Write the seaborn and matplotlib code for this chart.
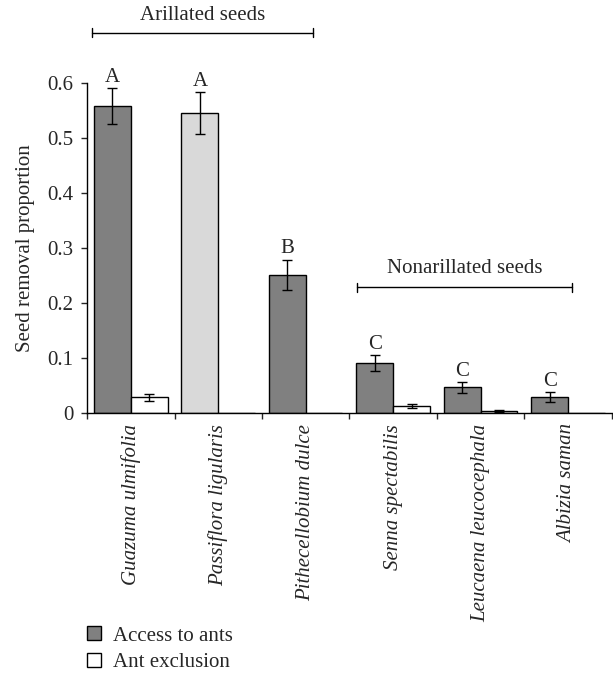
import pandas as pd
import matplotlib
matplotlib.use("Agg")
import matplotlib.pyplot as plt
from matplotlib.patches import Patch
import seaborn as sns

# Data
species = ["Guazuma ulmifolia", "Passiflora ligularis", "Pithecellobium dulce",
           "Senna spectabilis", "Leucaena leucocephala", "Albizia saman"]
access = [0.558, 0.545, 0.251, 0.091, 0.047, 0.029]
access_err = [0.033, 0.038, 0.028, 0.014, 0.010, 0.009]
exclusion = [0.029, 0.0, 0.0, 0.013, 0.004, 0.0]
exclusion_err = [0.006, 0.0, 0.0, 0.004, 0.001, 0.0]
letters = ["A", "A", "B", "C", "C", "C"]
treatments = ["Access to ants", "Ant exclusion"]

df = pd.DataFrame({
    "species": species * 2,
    "treatment": [treatments[0]] * len(species) + [treatments[1]] * len(species),
    "value": access + exclusion,
})

sns.set_style("white")
plt.rcParams["font.family"] = ["Liberation Serif", "DejaVu Serif"]
fs = 15

dark = "#808080"
light = "#d9d9d9"

fig = plt.figure(figsize=(6.13, 6.74), dpi=100)
ax = fig.add_axes([0.142, 0.387, 0.856, 0.49])

sns.barplot(data=df, x="species", y="value", hue="treatment", order=species,
            hue_order=treatments, palette=[dark, "white"], width=0.84,
            edgecolor="black", linewidth=1.0, errorbar=None, legend=False, ax=ax)

bars = [p for p in ax.patches]
access_bars = bars[:len(species)]
excl_bars = bars[len(species):]
# Passiflora bar is shaded lighter in the original
access_bars[1].set_facecolor(light)

for grp, vals, errs in [(access_bars, access, access_err), (excl_bars, exclusion, exclusion_err)]:
    for b, v, e in zip(grp, vals, errs):
        if e > 0:
            ax.errorbar(b.get_x() + b.get_width() / 2, v, yerr=e, color="black",
                        lw=1.0, capsize=3.5, capthick=1.0, zorder=5)

for b, v, e, lab in zip(access_bars, access, access_err, letters):
    ax.text(b.get_x() + b.get_width() / 2, v + e + 0.002, lab, ha="center",
            va="bottom", fontsize=fs, clip_on=False)

ax.set_xlim(-0.5, len(species) - 0.5)
ax.set_ylim(0, 0.6)
ax.set_yticks([0, 0.1, 0.2, 0.3, 0.4, 0.5, 0.6])
ax.set_yticklabels(["0", "0.1", "0.2", "0.3", "0.4", "0.5", "0.6"], fontsize=fs)
ax.set_ylabel("Seed removal proportion", fontsize=fs, labelpad=9)
ax.set_xlabel("")

# category boundaries as major ticks, names on minor ticks
ax.set_xticks([i - 0.5 for i in range(len(species) + 1)])
ax.set_xticklabels([])
ax.set_xticks(range(len(species)), minor=True)
ax.set_xticklabels(species, minor=True, rotation=90, style="italic",
                   ha="center", va="top", fontsize=fs)
ax.tick_params(axis="x", which="major", direction="out", length=4, width=1, bottom=True)
ax.tick_params(axis="x", which="minor", length=0, pad=8)
ax.tick_params(axis="y", direction="out", length=4, width=1, left=True, pad=6)

for s in ["top", "right"]:
    ax.spines[s].set_visible(False)
for s in ["left", "bottom"]:
    ax.spines[s].set_color("black")
    ax.spines[s].set_linewidth(1.0)

# group brackets
def bracket(x0, x1, y, label, ty):
    ax.plot([x0, x1], [y, y], color="black", lw=1.0, clip_on=False)
    for x in (x0, x1):
        ax.plot([x, x], [y - 0.008, y + 0.008], color="black", lw=1.0, clip_on=False)
    ax.text((x0 + x1) / 2, ty, label, ha="center", va="center", fontsize=fs, clip_on=False)

bracket(-0.443, 2.083, 0.691, "Arillated seeds", 0.723)
bracket(2.586, 5.043, 0.229, "Nonarillated seeds", 0.263)

handles = [Patch(facecolor=dark, edgecolor="black", lw=1.0),
           Patch(facecolor="white", edgecolor="black", lw=1.0)]
fig.legend(handles, treatments, loc="upper left", bbox_to_anchor=(0.129, 0.083),
           frameon=False, handlelength=0.65, handleheight=0.65, handletextpad=0.6,
           labelspacing=0.35, borderaxespad=0, fontsize=fs)

fig.savefig("out.png", dpi=100)
